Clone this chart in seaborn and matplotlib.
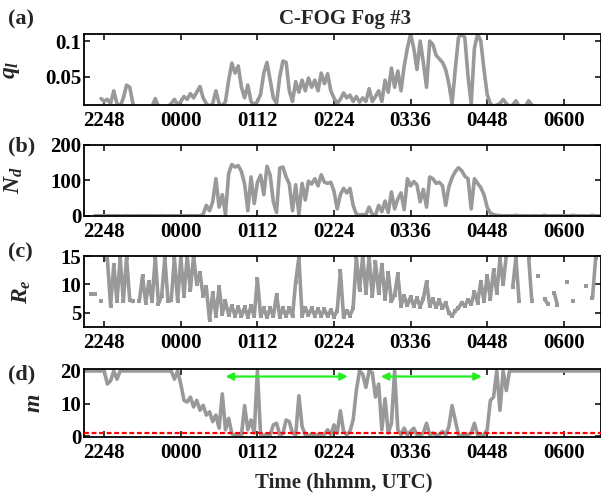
import numpy as np
import pandas as pd
import matplotlib
matplotlib.use("Agg")
import matplotlib.pyplot as plt
import seaborn as sns

nan = np.nan

# sample times: minutes after 0000 UTC (negative = before midnight), 3-min spacing
minutes = np.arange(-90, 394, 3)

ql = [nan, nan, nan, nan, nan, 0.019, 0.015, 0.018, 0.012, 0.030,
      0.012, 0.008, 0.020, 0.038, 0.035, 0.012, 0.005, 0.005, 0.005, 0.005,
      0.005, 0.008, 0.019, 0.008, 0.005, 0.005, 0.008, 0.012, 0.018, 0.010,
      0.015, 0.022, 0.018, 0.026, 0.020, 0.028, 0.036, 0.020, 0.012, 0.008,
      0.012, 0.030, 0.012, 0.008, 0.015, 0.045, 0.069, 0.055, 0.065, 0.035,
      0.020, 0.038, 0.015, 0.010, 0.015, 0.025, 0.055, 0.070, 0.045, 0.020,
      0.012, 0.050, 0.072, 0.070, 0.030, 0.015, 0.043, 0.028, 0.045, 0.030,
      0.048, 0.035, 0.045, 0.030, 0.055, 0.040, 0.054, 0.030, 0.020, 0.012,
      0.018, 0.027, 0.020, 0.024, 0.015, 0.022, 0.014, 0.020, 0.015, 0.033,
      0.015, 0.022, 0.030, 0.015, 0.045, 0.028, 0.062, 0.035, 0.058, 0.030,
      0.065, 0.090, 0.110, 0.090, 0.060, 0.100, 0.070, 0.035, 0.100, 0.095,
      0.080, 0.075, 0.070, 0.060, 0.040, 0.012, 0.060, 0.105, 0.110, 0.105,
      0.050, 0.012, 0.090, 0.110, 0.100, 0.060, 0.025, 0.012, 0.008, 0.010,
      0.012, 0.018, 0.012, 0.008, 0.010, 0.016, 0.008, 0.005, 0.008, 0.016,
      0.010, 0.008, nan, nan, nan, nan, nan, nan, nan, nan,
      nan, nan, nan, nan, nan, nan, nan, nan, nan, nan,
      nan, nan]

Nd = [nan, nan, nan, 0.5, 1, 0.5, 0.5, 1, 0.5, 0.5,
      1, 0.5, 0.5, 1, 0.5, 0.5, 0.5, 1, 0.5, 0.5,
      1, 0.5, 0.5, 0.5, 1, 0.5, 0.5, 1, 0.5, 0.5,
      1, 0.5, 0.5, 1, 0.5, 1, 0.5, 5, 30, 15,
      40, 105, 25, 60, 5, 120, 145, 138, 142, 125,
      90, 15, 110, 35, 95, 115, 60, 140, 115, 40,
      10, 135, 138, 110, 90, 15, 88, 5, 92, 45,
      98, 90, 105, 85, 116, 95, 92, 95, 70, 20,
      60, 78, 65, 78, 30, 5, 3, 4, 3, 25,
      5, 2, 30, 12, 42, 10, 68, 20, 48, 65,
      18, 105, 85, 97, 88, 40, 75, 25, 110, 105,
      92, 95, 85, 30, 82, 108, 125, 136, 128, 112,
      105, 20, 105, 92, 80, 60, 25, 8, 4, 2,
      1, 0.5, 0.5, 1, 0.5, 2, 0.5, 0.5, 1, 0.5,
      0.5, 1, 0.5, 0.5, 2, 0.5, 0.5, 1, 0.5, 0.5,
      1, 0.5, 0.5, 2, 0.5, 0.5, 1, 0.5, 0.5, 2,
      0.5, 1]

Re = [nan, nan, 8.3, 8.3, nan, 7.0, nan, 14.4, 6.2, 13.5,
      7.0, 14.7, 7.0, 14.7, 7.2, 7.0, nan, 7.0, 11.5, 6.8,
      10.5, 7.0, 14.8, 6.6, 8.0, 14.6, 7.0, 7.2, 14.7, 7.0,
      14.8, 8.0, 15.0, 9.0, 15.0, 10.0, 12.0, 8.0, 9.5, 3.7,
      8.5, 4.5, 9.5, 4.8, 7.0, 4.6, 6.2, 4.5, 6.0, 4.4,
      6.0, 4.3, 6.2, 4.4, 11.0, 4.4, 5.8, 4.2, 5.8, 4.4,
      8.2, 4.3, 5.8, 4.4, 5.9, 4.4, 10.5, 14.7, 4.5, 5.9,
      4.6, 5.8, 4.5, 5.7, 4.5, 5.6, 4.4, 5.5, 4.3, 5.4,
      12.3, 4.3, 5.4, 4.5, 5.8, 14.8, 9.0, 15.0, 8.5, 14.8,
      8.0, 14.0, 8.5, 13.5, 7.5, 12.0, 7.0, 8.2, 11.8, 6.2,
      7.9, 6.3, 7.8, 6.2, 7.6, 6.1, 7.5, 10.5, 6.2, 7.4,
      6.0, 7.2, 5.8, 6.8, 5.0, 4.4, 5.4, 5.8, 6.8, 6.2,
      7.3, 6.5, 8.7, 6.8, 10.5, 7.0, 11.5, 7.5, 12.5, 8.5,
      14.5, 10.0, 15.0, nan, 9.5, 14.7, 7.0, nan, nan, 14.7,
      7.0, nan, 11.5, nan, 7.5, 6.5, nan, 8.5, 6.4, nan,
      nan, 10.5, nan, 7.0, nan, nan, nan, 9.8, nan, 7.6,
      14.7, nan]

m = [20, 20, 20, 20, 20, 20, 20, 16, 17, 20,
     17.5, 20, 20, 20, 20, 20, 20, 20, 20, 20,
     20, 20, 20, 20, 20, 20, 20, 20, 17.5, 20,
     16, 11, 10.5, 12, 9, 11, 8, 9.5, 6.5, 7.5,
     4.5, 6.5, 2.5, 13, 2.0, 5.5, 0.8, 0.3, 0.5, 0.3,
     9.4, 2.0, 5.0, 1.0, 20, 0.5, 0.3, 0.6, 0.4, 3.5,
     4.0, 0.5, 0.8, 5.0, 4.5, 1.0, 0.5, 12.4, 3.0, 0.5,
     0.3, 0.5, 0.3, 0.5, 0.4, 0.6, 2.0, 0.5, 3.5, 1.0,
     7.8, 1.5, 0.5, 1.5, 5.0, 14, 20, 19, 15, 20,
     19.5, 12, 16, 2.0, 11.5, 1.0, 4.0, 20, 2.0, 0.5,
     2.5, 0.5, 1.5, 2.5, 0.5, 0.3, 1.0, 4.0, 0.5, 1.0,
     0.3, 0.5, 1.5, 0.5, 3.0, 9.4, 5.0, 0.5, 0.3, 0.5,
     0.5, 1.0, 4.0, 0.5, 0.3, 0.5, 2.0, 11.0, 12.0, 20,
     8, 20, 14, 20, 20, 20, 20, 20, 20, 20,
     20, 20, 20, 20, 20, 20, 20, 20, 20, 20,
     20, 20, 20, 20, 20, 20, 20, 20, 20, 20,
     20, 20]

tick_minutes = [-72, 0, 72, 144, 216, 288, 360]
tick_labels = ["2248", "0000", "0112", "0224", "0336", "0448", "0600"]
m_threshold = 1.0
arrow_spans = [(42, 157), (188, 283)]
arrow_level = 18.3

series = [ql, Nd, Re, m]
ylims = [(0.01, 0.11), (0, 200), (2.5, 15), (-0.2, 20.6)]
yticks = [[0.05, 0.1], [0, 100, 200], [5, 10, 15], [0, 10, 20]]
yticklabels = [["0.05", "0.1"], ["0", "100", "200"], ["5", "10", "15"], ["0", "10", "20"]]
ylabels = [r"$q_l$", r"$N_d$", r"$R_e$", r"$m$"]
ylabel_x = [-0.12, -0.114, -0.099, -0.076]
letters = ["(a)", "(b)", "(c)", "(d)"]

sns.set_style("ticks")
plt.rcParams["font.family"] = ["Liberation Serif", "DejaVu Serif"]
plt.rcParams["font.weight"] = "bold"
plt.rcParams["mathtext.fontset"] = "custom"
plt.rcParams["mathtext.rm"] = "Liberation Serif:bold"
plt.rcParams["mathtext.it"] = "Liberation Serif:italic:bold"
plt.rcParams["mathtext.bf"] = "Liberation Serif:bold"

W, H = 601, 495
fig = plt.figure(figsize=(W / 100, H / 100), dpi=100)
# (top, bottom) in pixels for each panel
boxes = [(34, 105), (145, 216), (256, 327), (369, 437)]
left_px, right_px = 84, 601
gray = "#999999"

for k, (top, bot) in enumerate(boxes):
    ax = fig.add_axes([left_px / W, 1 - bot / H, (right_px - left_px) / W, (bot - top) / H])
    df = pd.DataFrame({"t": minutes, "v": np.array(series[k], dtype=float)})
    df["seg"] = df["v"].isna().cumsum()
    dfv = df.dropna()
    sns.lineplot(data=dfv, x="t", y="v", units="seg", estimator=None, color=gray,
                 lw=2.6, ax=ax, legend=False)
    if k == 2:
        sns.scatterplot(data=dfv, x="t", y="v", color=gray, marker="s", s=5,
                        linewidth=0, ax=ax, legend=False)
    if k == 3:
        ax.axhline(m_threshold, color="red", lw=1.6, ls=(0, (2.2, 1.2)), zorder=3)
        for (a, b) in arrow_spans:
            ax.annotate("", xy=(b, arrow_level), xytext=(a, arrow_level),
                        arrowprops=dict(arrowstyle="<|-|>", color="#22ee22", lw=1.6,
                                        mutation_scale=11, shrinkA=0, shrinkB=0))
    ax.set_xlim(-91, 395)
    ax.set_ylim(*ylims[k])
    ax.set_xticks(tick_minutes)
    ax.set_xticklabels(tick_labels)
    ax.set_yticks(yticks[k])
    ax.set_yticklabels(yticklabels[k])
    ax.set_xlabel("")
    ax.set_ylabel(ylabels[k], fontsize=17, labelpad=0)
    ax.yaxis.set_label_coords(ylabel_x[k], 0.5)
    ax.tick_params(direction="in", top=True, right=True, length=4, width=1.1,
                   labelsize=15, colors="black")
    ax.tick_params(axis="x", pad=4)
    ax.tick_params(axis="y", pad=2)
    for lab in ax.get_xticklabels() + ax.get_yticklabels():
        lab.set_fontweight("bold")
    for sp in ax.spines.values():
        sp.set_linewidth(1.3)
        sp.set_color("black")
    lx = 8 / W
    ly = [19, 146, 252, 374][k]
    fig.text(lx, 1 - ly / H, letters[k], fontsize=16, fontweight="bold",
             ha="left", va="center")

fig.text(345 / W, 1 - 19 / H, "C-FOG Fog #3", fontsize=15, fontweight="bold",
         ha="center", va="center")
fig.text(344 / W, 1 - 482 / H, "Time (hhmm, UTC)", fontsize=15, fontweight="bold",
         ha="center", va="center")

fig.savefig("out.png", dpi=100)
